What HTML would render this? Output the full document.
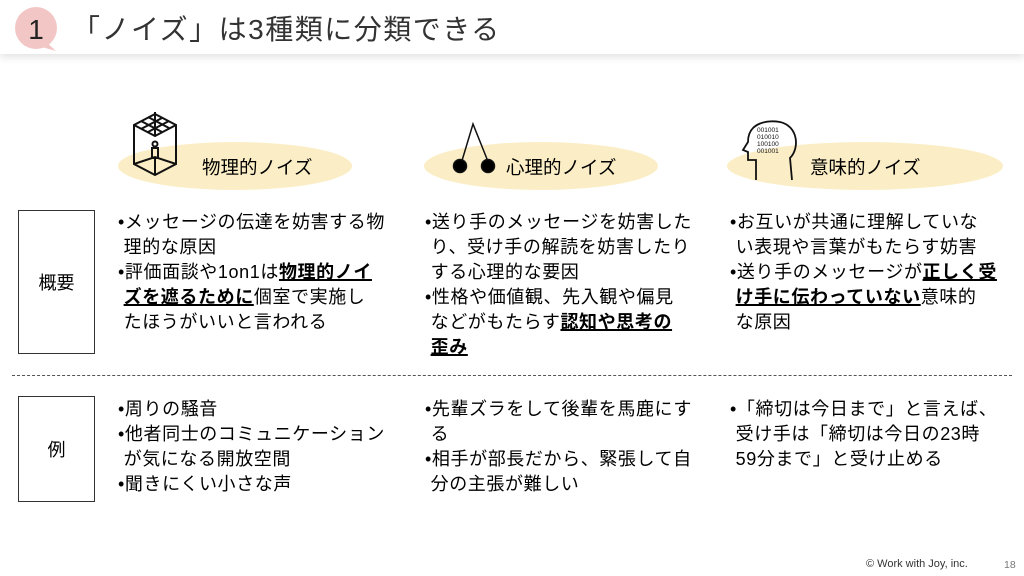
<!DOCTYPE html>
<html><head><meta charset="utf-8">
<style>
body{margin:0;width:1024px;height:576px;background:#fff;position:relative;overflow:hidden;font-family:"Liberation Sans","Noto Sans CJK JP",sans-serif;color:#000}
.hdr{position:absolute;left:0;top:0;width:1024px;height:54px;background:#fff;box-shadow:0 3px 8px rgba(0,0,0,0.12)}
.ttl{position:absolute;left:72px;top:8px;font-size:28px;color:#333;letter-spacing:1.5px}
.t{position:absolute;font-size:18px;line-height:25px;white-space:nowrap;letter-spacing:0.6px}
.t b{text-decoration:underline;text-decoration-thickness:2px}
.box{position:absolute;left:18px;width:75px;border:1px solid #333;display:flex;align-items:center;justify-content:center;font-size:18px}
.ell{position:absolute;background:#fbeec6;border-radius:50%}
.lab{position:absolute;font-size:18.5px}
</style></head><body>
<div class="hdr"></div>
<svg style="position:absolute;left:0;top:0" width="70" height="56">
<circle cx="36" cy="28" r="21" fill="#f3c6c6"/>
<path d="M44 40 L56 51 L38 46Z" fill="#f3c6c6"/>
<text x="36" y="39" font-size="28" text-anchor="middle" font-family="Liberation Sans" fill="#222">1</text>
</svg>
<div class="ttl">「ノイズ」は3種類に分類できる</div>

<div class="ell" style="left:118px;top:142px;width:234px;height:48px"></div>
<div class="ell" style="left:424px;top:142px;width:234px;height:48px"></div>
<div class="ell" style="left:727px;top:142px;width:276px;height:48px"></div>

<svg style="position:absolute;left:128px;top:112px" width="60" height="70" fill="none" stroke="#111" stroke-width="2">
<path d="M27 2 L48 13 L48 52 L27 63 L6 52 L6 13Z"/>
<path d="M6 13 L27 24 L48 13 M27 24 L27 0"/>
<path d="M13 9 L34 20 M20 5 L41 16 M20 20 L41 9 M13 17 L34 6"/>
<path d="M6 52 L27 45 L48 52 M27 45 L27 63"/>
<circle cx="27" cy="32" r="2.5"/><path d="M24 36h6v10h-6z"/>
</svg>
<svg style="position:absolute;left:445px;top:120px" width="60" height="60" stroke="#111" stroke-width="1.5">
<path d="M16 44 L28 4 L44 44" fill="none"/>
<circle cx="15" cy="46" r="6.5" fill="#000"/><circle cx="43" cy="46" r="6.5" fill="#000"/>
</svg>
<svg style="position:absolute;left:740px;top:118px" width="60" height="70">
<path d="M16 62 L16 42 L8 42 L8 34 L3 32 L8 24 C8 4 28 2 40 4 C58 8 60 30 50 40 L52 62" fill="none" stroke="#111" stroke-width="1.8"/>
<text font-family="Liberation Sans" font-size="6.5" fill="#111" x="17" y="14">001001</text>
<text font-family="Liberation Sans" font-size="6.5" fill="#111" x="17" y="21">010010</text>
<text font-family="Liberation Sans" font-size="6.5" fill="#111" x="17" y="28">100100</text>
<text font-family="Liberation Sans" font-size="6.5" fill="#111" x="17" y="35">001001</text>
</svg>

<div class="lab" style="left:202px;top:154px">物理的ノイズ</div>
<div class="lab" style="left:506px;top:154px">心理的ノイズ</div>
<div class="lab" style="left:810px;top:154px">意味的ノイズ</div>

<div class="box" style="top:210px;height:142px">概要</div>
<div class="box" style="top:396px;height:104px">例</div>
<div style="position:absolute;left:12px;top:375px;width:1000px;border-top:1px dashed #555"></div>

<div class="t" style="left:118px;top:210px">•メッセージの伝達を妨害する物<br>&nbsp;理的な原因<br>•評価面談や1on1は<b>物理的ノイ</b><br>&nbsp;<b>ズを遮るために</b>個室で実施し<br>&nbsp;たほうがいいと言われる</div>
<div class="t" style="left:425px;top:210px">•送り手のメッセージを妨害した<br>&nbsp;り、受け手の解読を妨害したり<br>&nbsp;する心理的な要因<br>•性格や価値観、先入観や偏見<br>&nbsp;などがもたらす<b>認知や思考の</b><br>&nbsp;<b>歪み</b></div>
<div class="t" style="left:730px;top:210px">•お互いが共通に理解していな<br>&nbsp;い表現や言葉がもたらす妨害<br>•送り手のメッセージが<b>正しく受</b><br>&nbsp;<b>け手に伝わっていない</b>意味的<br>&nbsp;な原因</div>

<div class="t" style="left:118px;top:397px">•周りの騒音<br>•他者同士のコミュニケーション<br>&nbsp;が気になる開放空間<br>•聞きにくい小さな声</div>
<div class="t" style="left:425px;top:397px">•先輩ズラをして後輩を馬鹿にす<br>&nbsp;る<br>•相手が部長だから、緊張して自<br>&nbsp;分の主張が難しい</div>
<div class="t" style="left:730px;top:397px">•「締切は今日まで」と言えば、<br>&nbsp;受け手は「締切は今日の23時<br>&nbsp;59分まで」と受け止める</div>

<div style="position:absolute;left:866px;top:558px;font-size:11px;color:#333">© Work with Joy, inc.</div>
<div style="position:absolute;left:1004px;top:559px;font-size:10.5px;color:#777">18</div>
</body></html>
